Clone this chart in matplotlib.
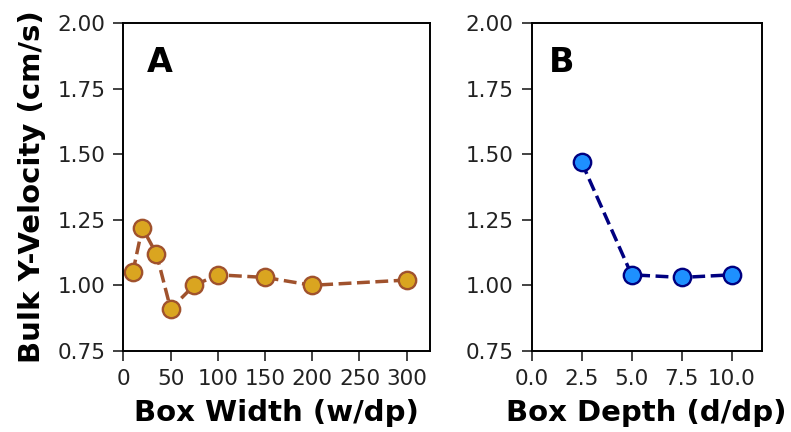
import matplotlib
matplotlib.use("Agg")
import matplotlib.pyplot as plt

# Box width sweep
width_x = [10, 20, 35, 50, 75, 100, 150, 200, 300]
width_v = [1.05, 1.22, 1.12, 0.91, 1.00, 1.04, 1.03, 1.00, 1.02]

# Box depth sweep
depth_x = [2.5, 5.0, 7.5, 10.0]
depth_v = [1.47, 1.04, 1.03, 1.04]

y_ticks = [0.75, 1.00, 1.25, 1.50, 1.75, 2.00]

fig = plt.figure(figsize=(7.91, 4.32), dpi=100)
ax1 = fig.add_axes([0.156, 0.188, 0.388, 0.758])
ax2 = fig.add_axes([0.672, 0.188, 0.291, 0.758])

ax1.plot(width_x, width_v, '--o', color='sienna', lw=2.5, ms=12.5,
         mfc='goldenrod', mec='sienna', mew=1.7)
ax2.plot(depth_x, depth_v, '--o', color='navy', lw=2.5, ms=12.5,
         mfc='dodgerblue', mec='navy', mew=1.7)

ax1.set_xlim(0, 325)
ax1.set_xticks([0, 50, 100, 150, 200, 250, 300])
ax2.set_xlim(0, 11.5)
ax2.set_xticks([0.0, 2.5, 5.0, 7.5, 10.0])

for ax in (ax1, ax2):
    ax.set_ylim(0.75, 2.0)
    ax.set_yticks(y_ticks)
    ax.set_yticklabels(['%.2f' % v for v in y_ticks])
    ax.tick_params(labelsize=15.5, length=7, width=1.2, pad=6,
                   colors='#222222')
    for s in ax.spines.values():
        s.set_linewidth(1.4)

ax1.set_xlabel('Box Width (w/dp)', fontsize=21, fontweight='bold', labelpad=7)
ax2.set_xlabel('Box Depth (d/dp)', fontsize=21, fontweight='bold', labelpad=7)
ax1.set_ylabel('Bulk Y-Velocity (cm/s)', fontsize=21, fontweight='bold',
               labelpad=8)

ax1.text(0.075, 0.93, 'A', transform=ax1.transAxes, fontsize=24,
         fontweight='bold', va='top')
ax2.text(0.075, 0.93, 'B', transform=ax2.transAxes, fontsize=24,
         fontweight='bold', va='top')

fig.savefig('out.png', dpi=100)
